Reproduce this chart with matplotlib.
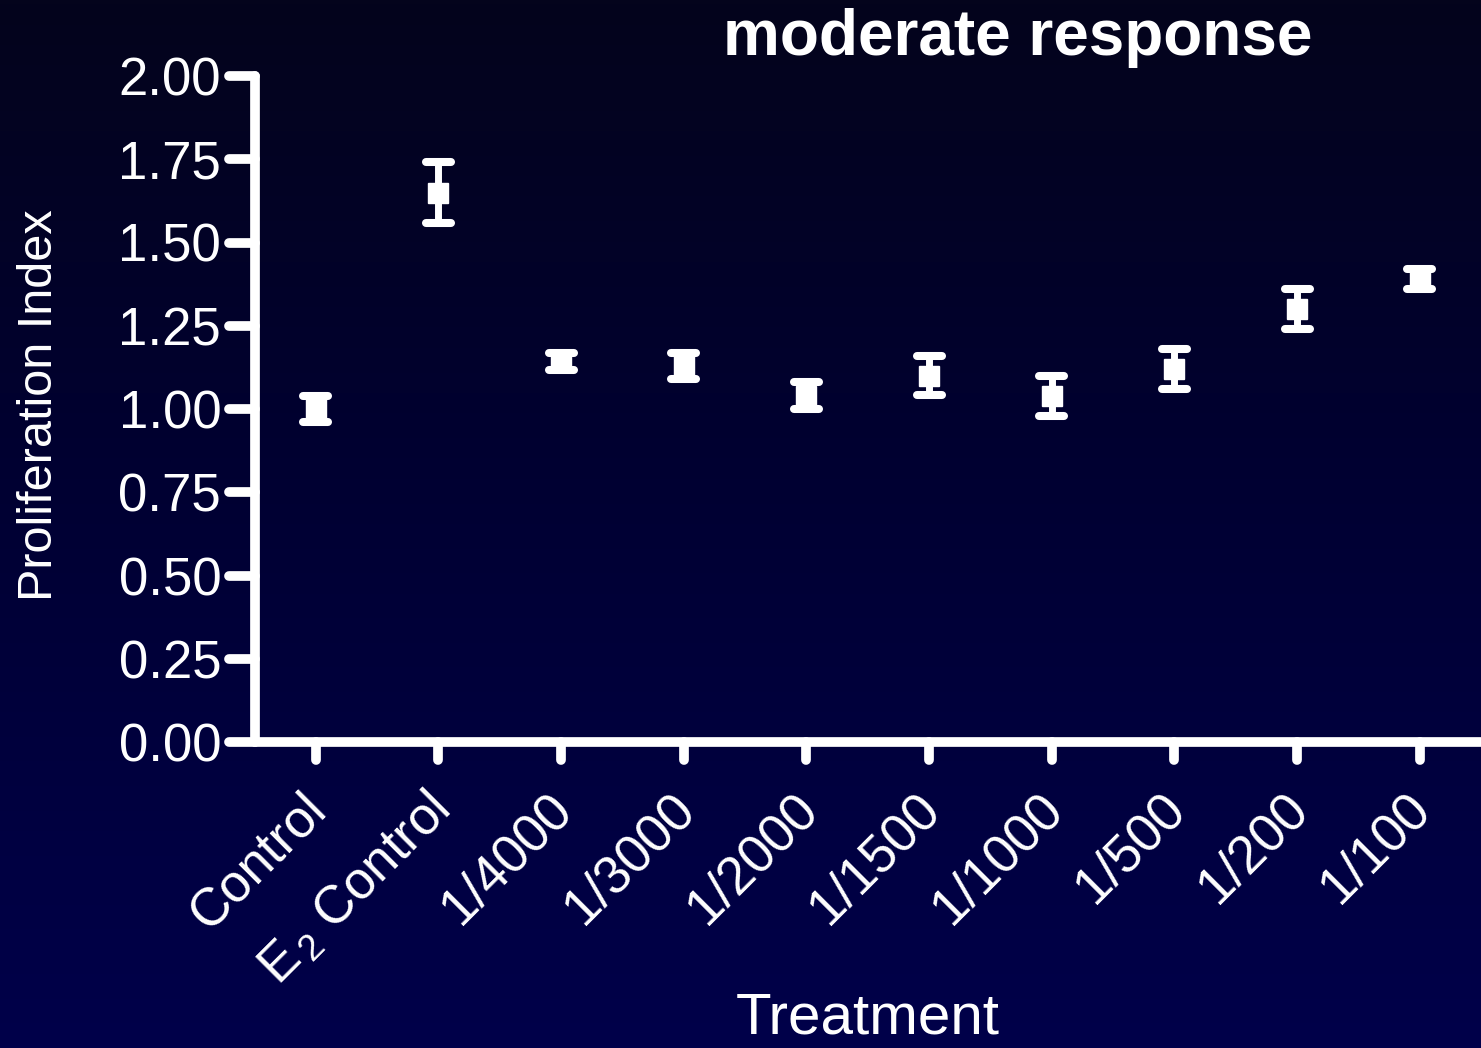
import numpy as np
import matplotlib
matplotlib.use("Agg")
import matplotlib.pyplot as plt
from matplotlib.colors import LinearSegmentedColormap
import matplotlib.transforms as mtransforms

plt.rcParams['font.family'] = ['Liberation Sans', 'DejaVu Sans']
plt.rcParams['mathtext.fontset'] = 'custom'
plt.rcParams['mathtext.rm'] = 'Liberation Sans'
plt.rcParams['mathtext.it'] = 'Liberation Sans'

categories = ["Control", r"E$_{\,2}$ Control", "1/4000", "1/3000", "1/2000",
              "1/1500", "1/1000", "1/500", "1/200", "1/100"]
means = [1.00, 1.65, 1.143, 1.13, 1.04, 1.10, 1.04, 1.12, 1.30, 1.39]
errors = [0.04, 0.091, 0.026, 0.039, 0.04, 0.059, 0.06, 0.059, 0.059, 0.029]
yticks = [0.00, 0.25, 0.50, 0.75, 1.00, 1.25, 1.50, 1.75, 2.00]

W, H = 1481, 1048
fig = plt.figure(figsize=(W / 100, H / 100), dpi=100)

# background gradient
bg = fig.add_axes([0, 0, 1, 1], zorder=-10)
cmap = LinearSegmentedColormap.from_list("bg", ["#04041c", "#000034", "#00004a"])
grad = np.linspace(0, 1, 256).reshape(-1, 1)
bg.imshow(grad, aspect='auto', cmap=cmap, extent=[0, 1, 0, 1], origin='upper')
bg.axis('off')

left = 254.5 / W
bottom = 1 - 742 / H
top = 1 - 76 / H
ax = fig.add_axes([left, bottom, 1 - left, top - bottom])
ax.patch.set_alpha(0)
axw = W - 254.5
axh = 742 - 76

x = np.arange(len(categories))
ax.errorbar(x, means, yerr=errors, fmt='s', color='white', ms=14, mew=1,
            mec='white', elinewidth=5, capsize=0, zorder=5)
# rounded caps
for xi, m, e in zip(x, means, errors):
    for yy in (m - e, m + e):
        ax.plot([xi - 0.102, xi + 0.102], [yy, yy], color='white', lw=5.8,
                solid_capstyle='round', zorder=6)

ax.set_xlim(-0.5, 9.5)
ax.set_ylim(0, 2.0)
ax.set_yticks(yticks)
ax.set_yticklabels([f"{v:.2f}" for v in yticks])
ax.set_xticks(x)

for s in ['top', 'right']:
    ax.spines[s].set_visible(False)
for s in ['left', 'bottom']:
    ax.spines[s].set_color('white')
    ax.spines[s].set_linewidth(7)
    ax.spines[s].set_capstyle('round')

ax.tick_params(axis='y', colors='white', length=0, labelsize=38, pad=24)
ax.tick_params(axis='x', length=0, labelbottom=False)

# rounded tick marks
tx = mtransforms.blended_transform_factory(ax.transData, ax.transAxes)
for xi in x:
    ax.plot([xi, xi], [0, -18 / axh], color='white', lw=7, transform=tx,
            solid_capstyle='round', clip_on=False, zorder=4)
ty = mtransforms.blended_transform_factory(ax.transAxes, ax.transData)
for yv in yticks:
    ax.plot([-26 / axw, 0], [yv, yv], color='white', lw=7, transform=ty,
            solid_capstyle='round', clip_on=False, zorder=4)

# rotated category labels
lab_off = mtransforms.ScaledTranslation(-15 / 100, -42 / 100, fig.dpi_scale_trans)
for xi, lab in zip(x, categories):
    ax.text(xi, 0, lab, transform=tx + lab_off, rotation=45, ha='right',
            va='top', rotation_mode='anchor', color='white', fontsize=38,
            clip_on=False)

fig.text(40 / W, 1 - 405 / H, "Proliferation Index", color='white', fontsize=35,
         rotation=90, ha='center', va='center')
fig.text(868 / W, 1 - 1034 / H, "Treatment", color='white', fontsize=42,
         ha='center', va='baseline')
fig.text(1018 / W, 1 - 55 / H, "moderate response", color='white', fontsize=46,
         fontweight='bold', ha='center', va='baseline')

fig.savefig("out.png", dpi=100)
